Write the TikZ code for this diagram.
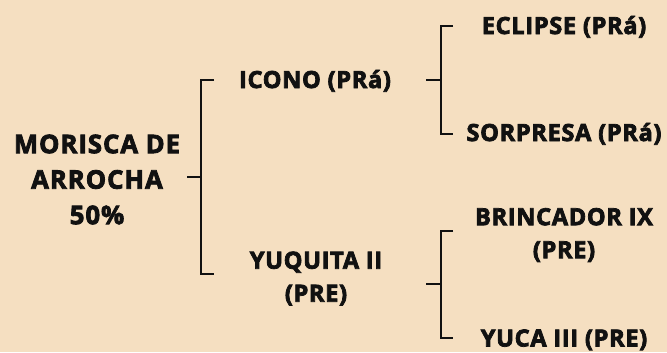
\documentclass[tikz,border=0pt]{standalone}
\usepackage{fontspec}
\setmainfont{Open Sans}
\newfontfamily\rootfont{Open Sans Bold}[FakeBold=3.2,LetterSpace=4]
\newfontfamily\lblfont{Open Sans Bold}[FakeBold=3.2,LetterSpace=2.8]
\definecolor{bg}{HTML}{F5DFC1}
\definecolor{ink}{HTML}{111111}
\begin{document}
\begin{tikzpicture}[x=1bp,y=-1bp,
  rootlbl/.style={font=\rootfont\fontsize{25.6bp}{35.5bp}\selectfont, text=ink, align=center, inner sep=0pt},
  lbl/.style={font=\lblfont\fontsize{23.6bp}{33bp}\selectfont, text=ink, align=center, inner sep=0pt},
  br/.style={draw=ink, line width=1.8bp}]
\fill[bg] (0,0) rectangle (667,352);
\useasboundingbox (0,0) rectangle (667,352);
% nodes
\node[rootlbl] (root) at (97,179.5) {MORISCA DE\\ARROCHA\\50\%};
\node[lbl, anchor=base] (icono) at (315,88) {ICONO (PRá)};
\node[lbl] (yuquita) at (316,278.5) {YUQUITA II\\(PRE)};
\node[lbl, anchor=base] (eclipse) at (564,34) {ECLIPSE (PRá)};
\node[lbl, anchor=base] (sorpresa) at (564,141) {SORPRESA (PRá)};
\node[lbl] (brincador) at (564,235) {BRINCADOR IX\\(PRE)};
\node[lbl, anchor=base] (yuca) at (564,346.5) {YUCA III (PRE)};
% bracket 1
\coordinate (a0) at (187,177);
\coordinate (aT) at (214,80);
\coordinate (aB) at (214,274);
\draw[br] (a0) -- ++(14,0);
\draw[br] (aT) -- ++(-13,0) |- (aB);
% bracket 2
\coordinate (b0) at (426,80);
\coordinate (bT) at (453,26);
\coordinate (bB) at (453,134);
\draw[br] (b0) -- ++(15,0);
\draw[br] (bT) -- ++(-12,0) |- (bB);
% bracket 3
\coordinate (c0) at (426,284);
\coordinate (cT) at (453,231);
\coordinate (cB) at (453,338);
\draw[br] (c0) -- ++(15,0);
\draw[br] (cT) -- ++(-12,0) |- (cB);
\end{tikzpicture}
\end{document}
